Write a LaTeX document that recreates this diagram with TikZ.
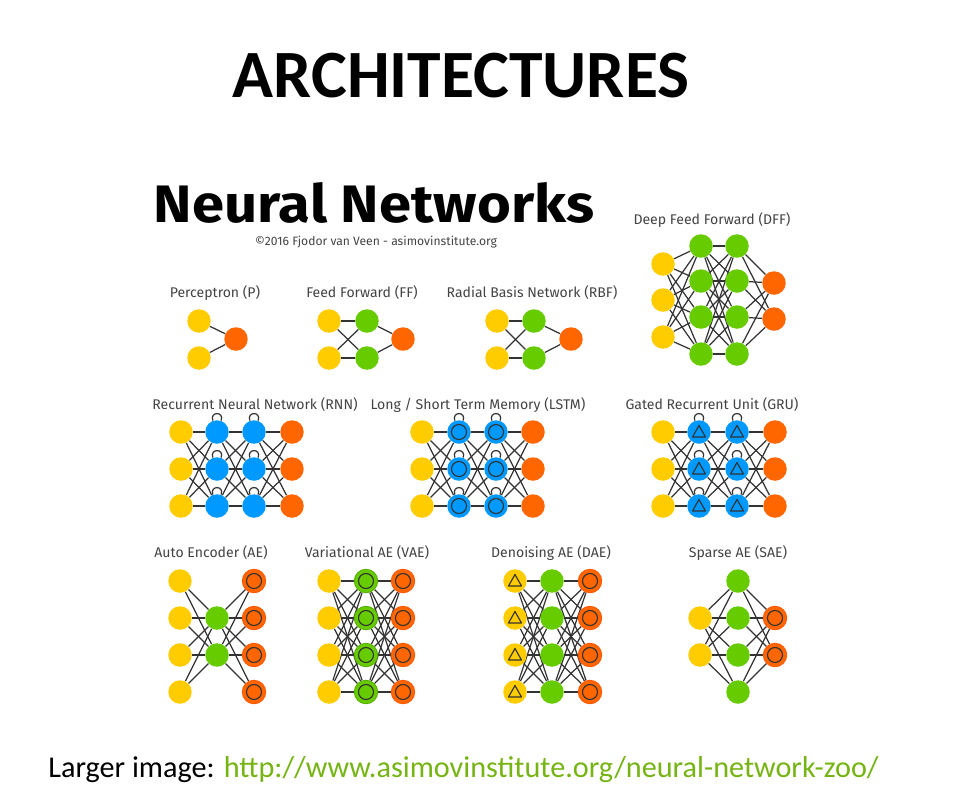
\documentclass[tikz,border=0pt]{standalone}
\usepackage{fontspec}
\setmainfont{Carlito}
\newfontfamily\zoofont{Fira Sans}
\usepackage{tikz}
\usetikzlibrary{backgrounds}
\definecolor{cellYellow}{RGB}{255, 204, 0}
\definecolor{cellGreen}{RGB}{102, 204, 0}
\definecolor{cellOrange}{RGB}{255, 102, 0}
\definecolor{cellBlue}{RGB}{0, 153, 255}
\definecolor{linkGray}{RGB}{51, 51, 51}
\definecolor{labelGray}{RGB}{68, 68, 68}
\definecolor{urlGreen}{RGB}{118, 180, 20}

\begin{document}
\begin{tikzpicture}[
    x=0.02cm, y=-0.02cm,
    cell/.style={
        circle,
        minimum size=0.47cm,
        inner sep=0pt
    },
    inpcell/.style={cell, fill=cellYellow},
    hidcell/.style={cell, fill=cellGreen},
    outcell/.style={cell, fill=cellOrange},
    reccell/.style={cell, fill=cellBlue},
    ringmark/.style={
        path picture={\draw[linkGray, line width=0.65pt] (path picture bounding box.center) circle (0.15cm);}
    },
    trimark/.style={
        path picture={\draw[linkGray, line width=0.65pt, line join=round]
            ([yshift=0.13cm]path picture bounding box.center) -- ++(-0.13cm,-0.23cm) -- ++(0.26cm,0cm) -- cycle;}
    },
    matchcell/.style={outcell, ringmark, draw=cellOrange!85!red, line width=0.5pt},
    memcell/.style={reccell, ringmark},
    gatecell/.style={reccell, trimark},
    probcell/.style={hidcell, ringmark, draw=cellGreen!85!black, line width=0.5pt},
    noisycell/.style={inpcell, trimark},
    conn/.style={draw=linkGray, line width=0.7pt},
    selfloop/.style={conn, out=110, in=70, min distance=0.2cm},
    netlabel/.style={
        font=\zoofont\fontsize{8}{10}\selectfont,
        text=labelGray
    }
]
\useasboundingbox (0,0) rectangle (961,796);

% Headings
\node[font=\bfseries\fontsize{38.5}{42}\selectfont] (heading) at (461,76) {ARCHITECTURES};
\node[font=\zoofont\bfseries\fontsize{30}{34}\selectfont] (zooTitle) at (374,203) {\scalebox{1.1}[1]{Neural Networks}};
\node[font=\zoofont\fontsize{6.9}{8}\selectfont, text=labelGray] (zooCredit) at (376,242) {©2016 Fjodor van Veen - asimovinstitute.org};

% Top row - P, FF, RBF, DFF
\node[netlabel] (pLabel) at (215,293) {Perceptron (P)};
\node[inpcell] (p-i1) at (199,321) {};
\node[inpcell] (p-i2) at (199,358) {};
\node[outcell] (p-o1) at (236,339) {};

\node[netlabel] (ffLabel) at (362,293) {Feed Forward (FF)};
\foreach \n/\y in {1/321,2/358} {
    \node[inpcell] (ff-i\n) at (329,\y) {};
    \node[hidcell] (ff-h\n) at (367,\y) {};
}
\node[outcell] (ff-o1) at (403,339) {};

\node[netlabel] (rbfLabel) at (532,293) {Radial Basis Network (RBF)};
\foreach \n/\y in {1/321,2/358} {
    \node[inpcell] (rbf-i\n) at (497,\y) {};
    \node[hidcell] (rbf-h\n) at (534,\y) {};
}
\node[outcell] (rbf-o1) at (571,339) {};

\node[netlabel] (dffLabel) at (712,220) {Deep Feed Forward (DFF)};
\foreach \n/\y in {1/264,2/300,3/337} \node[inpcell] (dff-i\n) at (663,\y) {};
\foreach \n/\y in {1/246,2/281,3/317,4/354} {
    \node[hidcell] (dff-a\n) at (701,\y) {};
    \node[hidcell] (dff-b\n) at (737,\y) {};
}
\foreach \n/\y in {1/283,2/319} \node[outcell] (dff-o\n) at (774,\y) {};

% Middle row - RNN, LSTM, GRU
\node[netlabel] (rnnLabel) at (255,405) {Recurrent Neural Network (RNN)};
\node[netlabel] (lstmLabel) at (478,405) {Long / Short Term Memory (LSTM)};
\node[netlabel] (gruLabel) at (712,405) {Gated Recurrent Unit (GRU)};
\foreach \n/\y in {1/432,2/469,3/506} {
    \node[inpcell] (rnn-i\n) at (181,\y) {};
    \node[reccell] (rnn-a\n) at (217,\y) {};
    \node[reccell] (rnn-b\n) at (254,\y) {};
    \node[outcell] (rnn-o\n) at (292,\y) {};
    \node[inpcell] (lstm-i\n) at (422,\y) {};
    \node[memcell] (lstm-a\n) at (459,\y) {};
    \node[memcell] (lstm-b\n) at (496,\y) {};
    \node[outcell] (lstm-o\n) at (533,\y) {};
    \node[inpcell] (gru-i\n) at (663,\y) {};
    \node[gatecell] (gru-a\n) at (699,\y) {};
    \node[gatecell] (gru-b\n) at (737,\y) {};
    \node[outcell] (gru-o\n) at (775,\y) {};
}

% Bottom row - AE, VAE, DAE, SAE
\node[netlabel] (aeLabel) at (211,553) {Auto Encoder (AE)};
\node[netlabel] (vaeLabel) at (367,553) {Variational AE (VAE)};
\node[netlabel] (daeLabel) at (551,553) {Denoising AE (DAE)};
\node[netlabel] (saeLabel) at (738,553) {Sparse AE (SAE)};
\foreach \n/\y in {1/581,2/618,3/655,4/692} {
    \node[inpcell] (ae-i\n) at (180,\y) {};
    \node[matchcell] (ae-o\n) at (254,\y) {};
    \node[inpcell] (vae-i\n) at (329,\y) {};
    \node[probcell] (vae-h\n) at (366,\y) {};
    \node[matchcell] (vae-o\n) at (403,\y) {};
    \node[noisycell] (dae-i\n) at (515,\y) {};
    \node[hidcell] (dae-h\n) at (552,\y) {};
    \node[matchcell] (dae-o\n) at (590,\y) {};
    \node[hidcell] (sae-h\n) at (738,\y) {};
}
\foreach \n/\y in {1/618,2/655} {
    \node[hidcell] (ae-h\n) at (217,\y) {};
    \node[inpcell] (sae-i\n) at (700,\y) {};
    \node[matchcell] (sae-o\n) at (775,\y) {};
}

% Link line
\node[anchor=west, inner sep=0pt, font=\fontsize{17.2}{20}\selectfont] (zooLink) at (48,770)
    {Larger image: \textcolor{urlGreen}{http://www.asimovinstitute.org/neural-network-zoo/}};

% Connections
\begin{scope}[on background layer]
\fill[white] (0,0) rectangle (961,796);
\foreach \s in {1,2} {
    \draw[conn] (p-i\s) -- (p-o1);
    \draw[conn] (ff-h\s) -- (ff-o1);
    \draw[conn] (rbf-h\s) -- (rbf-o1);
    \foreach \t in {1,2} {
        \draw[conn] (ff-i\s) -- (ff-h\t);
        \draw[conn] (rbf-i\s) -- (rbf-h\t);
    }
}
\foreach \s in {1,...,4} {
    \foreach \t in {1,2,3} \draw[conn] (dff-a\s) -- (dff-i\t);
    \foreach \t in {1,...,4} \draw[conn] (dff-a\s) -- (dff-b\t);
    \foreach \t in {1,2} \draw[conn] (dff-b\s) -- (dff-o\t);
}
\foreach \s in {1,2,3} {
    \foreach \t in {1,2,3} {
        \draw[conn] (rnn-i\s) -- (rnn-a\t);
        \draw[conn] (rnn-a\s) -- (rnn-b\t);
        \draw[conn] (rnn-b\s) -- (rnn-o\t);
        \draw[conn] (lstm-i\s) -- (lstm-a\t);
        \draw[conn] (lstm-a\s) -- (lstm-b\t);
        \draw[conn] (lstm-b\s) -- (lstm-o\t);
        \draw[conn] (gru-i\s) -- (gru-a\t);
        \draw[conn] (gru-a\s) -- (gru-b\t);
        \draw[conn] (gru-b\s) -- (gru-o\t);
    }
    \draw[selfloop] (rnn-a\s) to (rnn-a\s);
    \draw[selfloop] (rnn-b\s) to (rnn-b\s);
    \draw[selfloop] (lstm-a\s) to (lstm-a\s);
    \draw[selfloop] (lstm-b\s) to (lstm-b\s);
    \draw[selfloop] (gru-a\s) to (gru-a\s);
    \draw[selfloop] (gru-b\s) to (gru-b\s);
}
\foreach \s in {1,...,4} {
    \foreach \t in {1,2} {
        \draw[conn] (ae-i\s) -- (ae-h\t);
        \draw[conn] (ae-h\t) -- (ae-o\s);
        \draw[conn] (sae-i\t) -- (sae-h\s);
        \draw[conn] (sae-h\s) -- (sae-o\t);
    }
    \foreach \t in {1,...,4} {
        \draw[conn] (vae-i\s) -- (vae-h\t);
        \draw[conn] (vae-h\s) -- (vae-o\t);
        \draw[conn] (dae-i\s) -- (dae-h\t);
        \draw[conn] (dae-h\s) -- (dae-o\t);
    }
}
\end{scope}

\end{tikzpicture}
\end{document}
